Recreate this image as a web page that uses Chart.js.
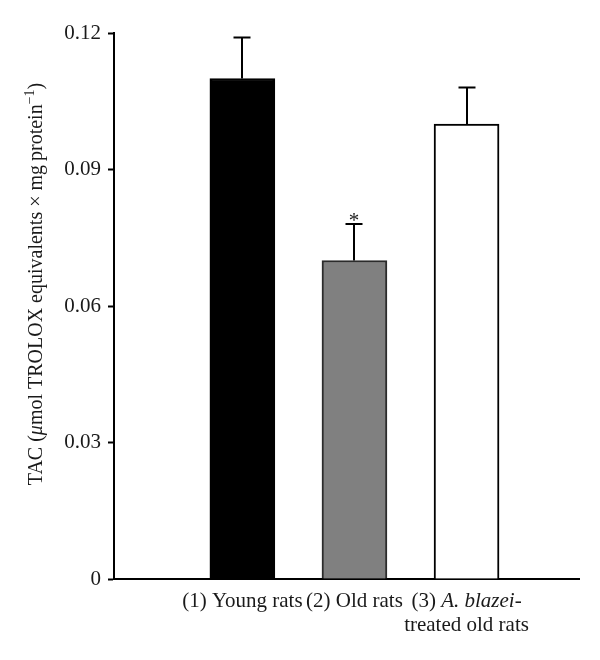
<!DOCTYPE html>
<html>
<head>
<meta charset="utf-8">
<script src="https://cdn.jsdelivr.net/npm/chart.js@4/dist/chart.umd.min.js"></script>
<style>
  html, body { margin: 0; padding: 0; background: #fff; }
  #wrap { width: 600px; height: 660px; }
</style>
</head>
<body>
<div id="wrap"><canvas id="chart" width="600" height="660"></canvas></div>
<script>
// data
const groups = ['(1) Young rats', '(2) Old rats', '(3) A. blazei-treated old rats'];
const groupPos = [1, 2, 3];
const tacValues = [0.110, 0.070, 0.100];
const tacErrors = [0.009, 0.008, 0.008];
const marks = ['', '*', ''];
const yTicks = [0, 0.03, 0.06, 0.09, 0.12];

// label pieces, [text, italic] per line
const groupLines = [
    [[['(1) Young rats', false]]],
    [[['(2) Old rats', false]]],
    [[['(3) ', false], ['A. blazei', true], ['-', false]], [['treated old rats', false]]]
];

const serif = '"Liberation Serif", "DejaVu Serif", serif';
const ink = '#1a1a1a';

const errorBars = {
    id: 'errorBars',
    afterDatasetsDraw(chart) {
        const ctx = chart.ctx;
        const x = chart.scales.x;
        const y = chart.scales.y;
        ctx.save();
        ctx.strokeStyle = '#000';
        ctx.lineWidth = 2;
        groupPos.forEach((g, i) => {
            const cx = Math.round(x.getPixelForValue(g));
            const top = y.getPixelForValue(tacValues[i] + tacErrors[i]);
            const base = y.getPixelForValue(tacValues[i]);
            ctx.beginPath();
            ctx.moveTo(cx, base);
            ctx.lineTo(cx, top);
            ctx.moveTo(cx - 8.5, top);
            ctx.lineTo(cx + 8.5, top);
            ctx.stroke();
            if (marks[i]) {
                ctx.fillStyle = ink;
                ctx.font = '21px ' + serif;
                ctx.textAlign = 'center';
                ctx.textBaseline = 'alphabetic';
                ctx.fillText(marks[i], cx, top + 3);
            }
        });
        ctx.restore();
    }
};

const textBits = {
    id: 'textBits',
    afterDraw(chart) {
        const ctx = chart.ctx;
        const x = chart.scales.x;
        ctx.save();
        ctx.fillStyle = ink;
        ctx.textBaseline = 'alphabetic';
        ctx.textAlign = 'left';

        // category labels, centred under each bar
        groupLines.forEach((lines, i) => {
            const cx = x.getPixelForValue(groupPos[i]);
            lines.forEach((parts, j) => {
                let w = 0;
                parts.forEach(p => {
                    ctx.font = (p[1] ? 'italic ' : '') + '21px ' + serif;
                    w += ctx.measureText(p[0]).width;
                });
                let px = cx - w / 2;
                parts.forEach(p => {
                    ctx.font = (p[1] ? 'italic ' : '') + '21px ' + serif;
                    ctx.fillText(p[0], px, 607 + j * 24);
                    px += ctx.measureText(p[0]).width;
                });
            });
        });

        // y axis title, rotated
        const title = [
            ['TAC (', '', 0], ['\u03bc', 'italic ', 0], ['mol TROLOX equivalents \u00d7 mg\u2009protein', '', 0],
            ['\u22121', '', -8], [')', '', 0]
        ];
        let tw = 0;
        title.forEach(t => {
            ctx.font = t[1] + (t[2] ? '14px ' : '20px ') + serif;
            tw += ctx.measureText(t[0]).width;
        });
        ctx.translate(42, 284);
        ctx.rotate(-Math.PI / 2);
        let tx = -tw / 2;
        title.forEach(t => {
            ctx.font = t[1] + (t[2] ? '14px ' : '20px ') + serif;
            ctx.fillText(t[0], tx, t[2]);
            tx += ctx.measureText(t[0]).width;
        });
        ctx.restore();
    }
};

new Chart(document.getElementById('chart'), {
    type: 'bar',
    data: {
        labels: groups,
        datasets: [{
            data: tacValues.map((v, i) => ({x: groupPos[i], y: v})),
            backgroundColor: ['#000000', '#808080', '#ffffff'],
            borderColor: ['#000000', '#2b2b2b', '#000000'],
            borderWidth: 2,
            borderSkipped: 'bottom',
            barThickness: 65
        }]
    },
    options: {
        responsive: false,
        animation: false,
        layout: {padding: {left: 0, right: 21, top: 33, bottom: 0}},
        plugins: {legend: {display: false}, tooltip: {enabled: false}},
        scales: {
            x: {
                type: 'linear',
                min: 0.151,
                max: 3.707,
                grid: {display: false},
                border: {display: true, color: '#000', width: 2},
                ticks: {display: false},
                afterFit: s => { s.height = 81; }
            },
            y: {
                min: 0,
                max: 0.12,
                afterBuildTicks: s => { s.ticks = yTicks.map(v => ({value: v})); },
                grid: {drawOnChartArea: false, drawTicks: true, tickLength: 6, tickColor: '#000', tickWidth: 2},
                border: {display: true, color: '#000', width: 2},
                ticks: {
                    color: ink,
                    padding: 7,
                    font: {family: serif, size: 21},
                    callback: v => String(v)
                },
                afterFit: s => { s.width = 114; }
            }
        }
    },
    plugins: [errorBars, textBits]
});
</script>
</body>
</html>
